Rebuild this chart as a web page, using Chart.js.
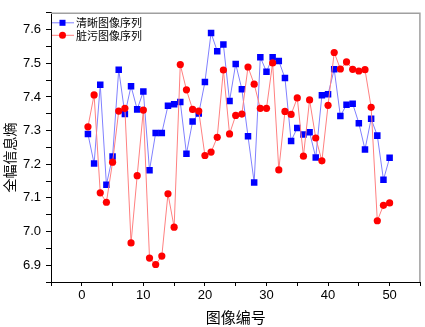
<!DOCTYPE html>
<html>
<head>
<meta charset="utf-8">
<script src="https://cdn.jsdelivr.net/npm/chart.js@4/dist/chart.umd.min.js"></script>
<style>
  html, body { margin: 0; padding: 0; background: #fff; }
  canvas { display: block; }
</style>
</head>
<body>
<canvas id="entropy" width="425" height="327"></canvas>
<script>
// image index on x, full-frame entropy on y
const imageNo = [1,2,3,4,5,6,7,8,9,10,11,12,13,14,15,16,17,18,19,20,21,22,23,24,25,26,27,28,29,30,31,32,33,34,35,36,37,38,39,40,41,42,43,44,45,46,47,48,49,50];
const clearSeq = [7.290,7.202,7.436,7.139,7.223,7.481,7.349,7.432,7.363,7.416,
                  7.182,7.293,7.293,7.374,7.378,7.385,7.231,7.327,7.351,7.444,
                  7.590,7.536,7.556,7.388,7.498,7.423,7.283,7.146,7.518,7.475,
                  7.518,7.507,7.456,7.269,7.308,7.288,7.295,7.220,7.405,7.408,
                  7.482,7.343,7.377,7.380,7.322,7.244,7.335,7.285,7.154,7.219];
const dirtySeq = [7.311,7.406,7.115,7.087,7.206,7.358,7.366,6.966,7.166,7.361,
                  6.921,6.902,6.927,7.112,7.013,7.496,7.421,7.363,7.358,7.226,
                  7.236,7.280,7.480,7.290,7.345,7.349,7.489,7.438,7.366,7.366,
                  7.501,7.183,7.357,7.348,7.397,7.224,7.391,7.278,7.210,7.375,
                  7.532,7.483,7.504,7.482,7.477,7.481,7.369,7.032,7.078,7.085];
const seriesNames = ['清晰图像序列', '脏污图像序列'];
const xTitle = '图像编号';
const yTitle = '全幅信息熵';
const xTickVals = [-5,0,5,10,15,20,25,30,35,40,45,50,55];
const yTickVals = [6.85,6.9,6.95,7.0,7.05,7.1,7.15,7.2,7.25,7.3,7.35,7.4,7.45,7.5,7.55,7.6,7.65];

const cjk = '"Noto Sans CJK SC", sans-serif';
const toPts = ys => imageNo.map((x, i) => ({x: x, y: ys[i]}));

// frame, legend and axis titles drawn by hand (Origin style)
const originDecor = {
    id: 'originDecor',
    afterDraw(chart) {
        const {ctx, chartArea: a} = chart;
        ctx.save();
        ctx.strokeStyle = '#a0a0a0';
        ctx.lineWidth = 1.5;
        ctx.beginPath();
        ctx.moveTo(a.left, a.top + 0.5);
        ctx.lineTo(a.right - 0.5, a.top + 0.5);
        ctx.lineTo(a.right - 0.5, a.bottom);
        ctx.stroke();

        // legend
        const rows = [
            {name: seriesNames[0], line: '#8080ff', fill: '#0000ff', style: 'rect', y: a.top + 10},
            {name: seriesNames[1], line: '#ff8080', fill: '#ff0000', style: 'circle', y: a.top + 22.5}
        ];
        ctx.font = '11px ' + cjk;
        ctx.textBaseline = 'middle';
        ctx.textAlign = 'left';
        rows.forEach(r => {
            ctx.strokeStyle = r.line;
            ctx.lineWidth = 1;
            ctx.beginPath();
            ctx.moveTo(a.left + 1, r.y);
            ctx.lineTo(a.left + 23, r.y);
            ctx.stroke();
            ctx.fillStyle = r.fill;
            if (r.style === 'rect') ctx.fillRect(a.left + 8.5, r.y - 3, 6, 6);
            else { ctx.beginPath(); ctx.arc(a.left + 11.5, r.y, 3.5, 0, Math.PI * 2); ctx.fill(); }
            ctx.fillStyle = '#000';
            ctx.fillText(r.name, a.left + 25, r.y + 0.5);
        });

        // axis titles
        ctx.fillStyle = '#000';
        ctx.textAlign = 'center';
        ctx.font = '15px ' + cjk;
        ctx.fillText(xTitle, (a.left + a.right) / 2 + 0, 317);
        ctx.translate(10, a.top + (a.bottom - a.top) / 2 + 10);
        ctx.rotate(-Math.PI / 2);
        ctx.font = '14px ' + cjk;
        ctx.fillText(yTitle, 0, 0);
        ctx.restore();
    }
};

const ctx = document.getElementById('entropy').getContext('2d');
new Chart(ctx, {
    type: 'scatter',
    data: {
        datasets: [
            {
                label: seriesNames[0],
                data: toPts(clearSeq),
                showLine: true,
                borderColor: '#8080ff',
                borderWidth: 1,
                backgroundColor: '#0000ff',
                pointStyle: 'rect',
                pointRadius: 4.6,
                pointBorderWidth: 0,
                pointBackgroundColor: '#0000ff',
                order: 2
            },
            {
                label: seriesNames[1],
                data: toPts(dirtySeq),
                showLine: true,
                borderColor: '#ff8080',
                borderWidth: 1,
                backgroundColor: '#ff0000',
                pointStyle: 'circle',
                pointRadius: 3.6,
                pointBorderWidth: 0,
                pointBackgroundColor: '#ff0000',
                order: 1
            }
        ]
    },
    options: {
        responsive: false,
        animation: false,
        layout: { padding: { top: 2, right: 2, left: 0, bottom: 0 } },
        plugins: { legend: { display: false }, tooltip: { enabled: false } },
        elements: { line: { tension: 0 } },
        scales: {
            x: {
                type: 'linear',
                min: -5,
                max: 55,
                afterBuildTicks: s => { s.ticks = xTickVals.map(v => ({value: v})); },
                afterFit: s => { s.height = 45; },
                grid: { drawOnChartArea: false, tickLength: 4, tickColor: '#000', tickWidth: 1 },
                border: { color: '#000', width: 1 },
                ticks: {
                    autoSkip: false,
                    maxRotation: 0,
                    padding: 2,
                    color: '#000',
                    font: { family: '"Liberation Sans", Arial, sans-serif', size: 13 },
                    callback: v => (v % 10 === 0 && v >= 0 && v <= 50) ? String(v) : ''
                }
            },
            y: {
                min: 6.85,
                max: 7.65,
                afterBuildTicks: s => { s.ticks = yTickVals.map(v => ({value: v})); },
                afterFit: s => { s.width = 51; },
                grid: { drawOnChartArea: false, tickLength: 5, tickColor: '#000', tickWidth: 1 },
                border: { color: '#000', width: 1 },
                ticks: {
                    autoSkip: false,
                    padding: 5,
                    color: '#000',
                    font: { family: '"Liberation Sans", Arial, sans-serif', size: 13 },
                    callback: v => {
                        const r = Math.round(v * 100);
                        return (r % 10 === 0 && r >= 690 && r <= 760) ? (r / 100).toFixed(1) : '';
                    }
                }
            }
        }
    },
    plugins: [originDecor]
});
</script>
</body>
</html>
